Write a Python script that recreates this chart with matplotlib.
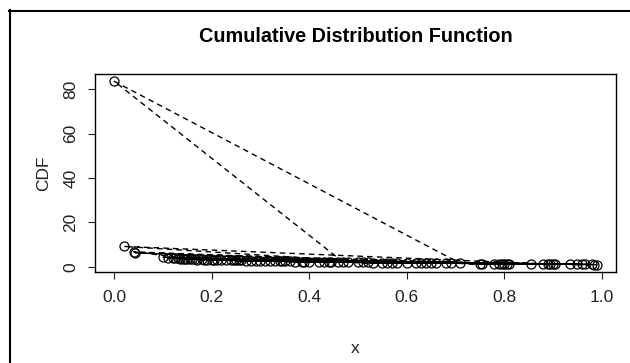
import matplotlib.pyplot as plt
from matplotlib.lines import Line2D

plt.rcParams["font.family"] = ["Liberation Sans", "DejaVu Sans"]

# points in data order (the line joins them in this order, R type="b" style)
x_vals = [0.47, 0.00, 0.71, 0.13, 0.55, 0.02, 0.89, 0.24, 0.36, 0.78,
          0.16, 0.04, 0.62, 0.31, 0.99, 0.11, 0.44, 0.27, 0.68, 0.19,
          0.81, 0.042, 0.58, 0.34, 0.12, 0.935, 0.40, 0.21, 0.53, 0.15,
          0.75, 0.29, 0.65, 0.10, 0.88, 0.37, 0.17, 0.50, 0.23, 0.96,
          0.14, 0.43, 0.80, 0.26, 0.60, 0.135, 0.33, 0.90, 0.20, 0.46,
          0.69, 0.18, 0.39, 0.79, 0.25, 0.57, 0.145, 0.95, 0.30, 0.63,
          0.22, 0.42, 0.855, 0.28, 0.52, 0.165, 0.66, 0.35, 0.98, 0.125,
          0.48, 0.795, 0.32, 0.895, 0.245, 0.965, 0.385, 0.185, 0.56, 0.805,
          0.445, 0.155, 0.755, 0.255, 0.64, 0.345, 0.905, 0.205, 0.51, 0.985]
cdf_vals = [2.1, 83.5, 1.6, 3.9, 1.9, 9.2, 1.3, 3.0, 2.5, 1.5,
            3.5, 6.8, 1.8, 2.6, 1.0, 4.1, 2.2, 2.8, 1.6, 3.2,
            1.4, 6.3, 1.8, 2.5, 3.9, 1.2, 2.3, 3.1, 1.9, 3.5,
            1.5, 2.7, 1.7, 4.3, 1.3, 2.4, 3.3, 2.0, 3.0, 1.1,
            3.6, 2.2, 1.4, 2.9, 1.8, 3.7, 2.6, 1.2, 3.1, 2.1,
            1.6, 3.4, 2.4, 1.5, 2.9, 1.9, 3.6, 1.2, 2.7, 1.7,
            3.0, 2.3, 1.3, 2.8, 2.0, 3.4, 1.7, 2.5, 1.1, 3.8,
            2.1, 1.45, 2.6, 1.25, 2.95, 1.1, 2.4, 3.3, 1.9, 1.4,
            2.2, 3.5, 1.5, 2.9, 1.7, 2.5, 1.2, 3.1, 2.0, 1.05]

x_ticks = [0.0, 0.2, 0.4, 0.6, 0.8, 1.0]
y_ticks = [0, 20, 40, 60, 80]

fig = plt.figure(figsize=(6.3, 3.63), dpi=100)
ax = fig.add_axes([95 / 630, 91 / 363, 521 / 630, 198 / 363])

ax.plot(x_vals, cdf_vals, color="black", linestyle=(0, (4, 3)), linewidth=1.0)
ax.plot(x_vals, cdf_vals, linestyle="none", marker="o", markersize=6.5,
        markerfacecolor="none", markeredgecolor="black", markeredgewidth=0.9)

# R style 4% padding
xr = max(x_vals) - min(x_vals)
yr = max(cdf_vals) - min(cdf_vals)
ax.set_xlim(min(x_vals) - 0.04 * xr, max(x_vals) + 0.04 * xr)
ax.set_ylim(min(cdf_vals) - 0.04 * yr, max(cdf_vals) + 0.04 * yr)

ax.set_xticks(x_ticks)
ax.set_xticklabels([f"{t:.1f}" for t in x_ticks])
ax.set_yticks(y_ticks)
ax.set_yticklabels([str(t) for t in y_ticks], rotation=90, va="center")
ax.tick_params(direction="out", length=5, width=0.8, labelsize=12.5,
               colors="#222222", pad=8)
ax.tick_params(axis="y", pad=7)
for s in ax.spines.values():
    s.set_linewidth(1.0)

ax.set_title("Cumulative Distribution Function", fontsize=14.3,
             fontweight="bold", pad=23)
ax.set_xlabel("x", fontsize=12.5, labelpad=26, color="#222222")
ax.set_ylabel("CDF", fontsize=12.5, labelpad=9, color="#222222")

# outer frame visible on top and left
fig.add_artist(Line2D([9.5 / 630, 9.5 / 630], [0, 1 - 10 / 363],
                      transform=fig.transFigure, color="black", linewidth=1.5))
fig.add_artist(Line2D([9 / 630, 1], [1 - 10.5 / 363, 1 - 10.5 / 363],
                      transform=fig.transFigure, color="black", linewidth=1.5))

fig.savefig("out.png", dpi=100)
